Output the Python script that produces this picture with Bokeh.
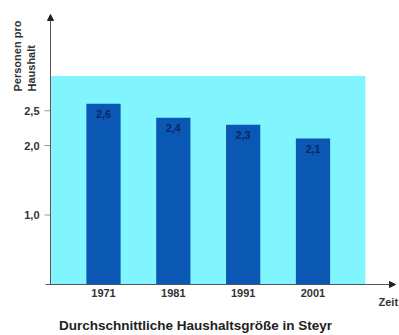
from bokeh.plotting import figure
from bokeh.models import Range1d, Arrow, NormalHead, ColumnDataSource
from bokeh.core.properties import value
from bokeh.embed import file_html
from bokeh.resources import INLINE

# ---- data ----
years = ["1971", "1981", "1991", "2001"]
household_size = [2.6, 2.4, 2.3, 2.1]
value_labels = ["2,6", "2,4", "2,3", "2,1"]
y_ticks = [1.0, 2.0, 2.5]
y_tick_labels = ["1,0", "2,0", "2,5"]
background_top = 3.0
title_text = "Durchschnittliche Haushaltsgröße in Steyr"
y_title_lines = ["Personen pro", "Haushalt"]
x_title = "Zeit"

W, H = 399, 335
FONT = "Liberation Sans"
BAR = "#0b57b4"
CYAN = "#80f5fd"
AXIS = "#555555"
TXT = "#333333"

# pixel geometry of the reference
axis_x_px, axis_y_px = 50, 284
px_per_unit_y = 69.5
px_per_cat = 69.83
first_center = 103

xs = list(range(len(years)))

def dx(px):
    return (px - first_center) / px_per_cat

def dy(py):
    return (axis_y_px - py) / px_per_unit_y

p = figure(width=W, height=H, output_backend="svg", toolbar_location=None,
           x_range=Range1d(dx(0), dx(W)), y_range=Range1d(dy(H), dy(0)),
           min_border=0, x_axis_type=None, y_axis_type=None)
p.outline_line_color = None
p.background_fill_color = "white"
p.border_fill_color = "white"
p.xgrid.visible = False
p.ygrid.visible = False

x_axis0 = dx(axis_x_px)

# cyan background panel
p.quad(left=[-0.75], right=[len(years) - 0.25], bottom=[0], top=[background_top],
       fill_color=CYAN, line_color=None)

src = ColumnDataSource(dict(x=xs, top=household_size, lab=value_labels, yr=years,
                            zero=[0] * len(years)))
p.vbar(x="x", top="top", bottom=0, width=0.49, source=src,
       fill_color=BAR, line_color=None)
p.text(x="x", y="top", text="lab", source=src, y_offset=10,
       text_align="center", text_baseline="middle",
       text_font=value(FONT), text_font_style="bold",
       text_font_size="10.5px", text_color="#0a2666")

# x axis labels (years)
p.text(x="x", y="zero", text="yr", source=src, y_offset=8,
       text_align="center", text_baseline="middle",
       text_font=value(FONT), text_font_style="bold",
       text_font_size="11px", text_color=TXT)

# y ticks and labels
tsrc = ColumnDataSource(dict(y=y_ticks, lab=y_tick_labels,
                             x0=[dx(44)] * len(y_ticks), x1=[x_axis0] * len(y_ticks),
                             xl=[dx(39)] * len(y_ticks)))
p.segment(x0="x0", y0="y", x1="x1", y1="y", source=tsrc, line_color="#999999", line_width=1)
p.text(x="xl", y="y", text="lab", source=tsrc,
       text_align="right", text_baseline="middle",
       text_font=value(FONT), text_font_style="bold",
       text_font_size="11px", text_color=TXT)

# axes with arrow heads
p.add_layout(Arrow(end=NormalHead(size=6, fill_color="#222222", line_color="#222222"),
                   x_start=dx(45), y_start=0, x_end=dx(395), y_end=0,
                   line_color=AXIS, line_width=1))
p.add_layout(Arrow(end=NormalHead(size=6, fill_color="#222222", line_color="#222222"),
                   x_start=x_axis0, y_start=0, x_end=x_axis0, y_end=dy(14),
                   line_color=AXIS, line_width=1))

# y title (rotated, two lines)
p.text(x=[dx(17), dx(31)], y=[dy(91), dy(91)], text=y_title_lines, angle=1.5708,
       text_align="left", text_baseline="middle",
       text_font=value(FONT), text_font_style="bold",
       text_font_size="11px", text_color=TXT)

# x title
p.text(x=[dx(378)], y=[dy(301)], text=[x_title],
       text_align="left", text_baseline="middle",
       text_font=value(FONT), text_font_style="bold",
       text_font_size="11px", text_color=TXT)

# chart title
p.text(x=[dx(195)], y=[dy(325)], text=[title_text],
       text_align="center", text_baseline="middle",
       text_font=value(FONT), text_font_style="bold",
       text_font_size="13.5px", text_color="#222222")

html = file_html(p, INLINE)
html = html.replace("<head>", "<head><style>html,body{margin:0;padding:0;overflow:hidden;}</style>", 1)
open("out.html", "w").write(html)
